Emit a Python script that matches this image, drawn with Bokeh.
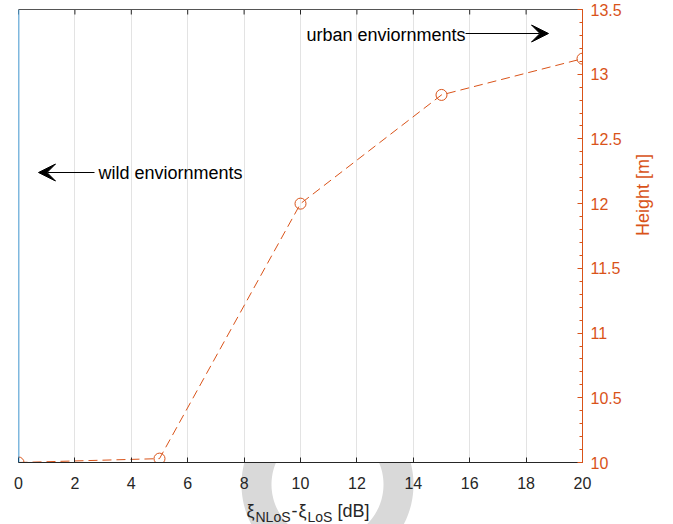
import numpy as np
from bokeh.plotting import figure
from bokeh.models import (Range1d, Span, Label, Arrow, VeeHead,
                          FixedTicker, CustomJSTickFormatter)
from bokeh.core.properties import value
from bokeh.embed import file_html
from bokeh.resources import INLINE

# ---- data ----
delta_xi = [0, 5, 10, 15, 20]
height = [10.0, 10.03, 12.0, 12.84, 13.12]
x_ticks = [0, 2, 4, 6, 8, 10, 12, 14, 16, 18, 20]
y_ticks = [10, 10.5, 11, 11.5, 12, 12.5, 13, 13.5]

ORANGE = "#D95319"
BLUE = "#0072BD"
AXC = "#262626"
FONT = "Liberation Sans"

W, H = 673, 524
BL, BR, BT, BB = 18, 91, 9, 62
X0, X1, Y0, Y1 = 0, 20, 10, 13.5
fw, fh = W - BL - BR, H - BT - BB


def px2x(px):
    return X0 + (px - BL) / fw * (X1 - X0)


def py2y(py):
    return Y1 - (py - BT) / fh * (Y1 - Y0)


p = figure(width=W, height=H, x_range=Range1d(X0, X1), y_range=Range1d(Y0, Y1),
           output_backend="svg", toolbar_location=None, y_axis_location="right",
           min_border_left=BL, min_border_right=BR, min_border_top=BT,
           min_border_bottom=BB)
p.outline_line_color = None
p.background_fill_color = "white"
p.border_fill_color = "white"

# grey ring behind the frame (only its part below the frame shows)
cxp, cyp, Ro, Ri = 327, 484, 86, 56
ybot = BT + fh
ao = np.arcsin((cyp - ybot) / Ro)
ai = np.arcsin((cyp - ybot) / Ri)
t_o = np.linspace(-ao, np.pi + ao, 120)
t_i = np.linspace(np.pi + ai, -ai, 120)
ring_px = np.concatenate([cxp + Ro * np.cos(t_o), cxp + Ri * np.cos(t_i)])
ring_py = np.concatenate([cyp + Ro * np.sin(t_o), cyp + Ri * np.sin(t_i)])
p.patch([px2x(v) for v in ring_px], [py2y(v) for v in ring_py],
        fill_color="#d9d9d9", line_alpha=0, level="guide")

# x axis (bottom)
xa = p.xaxis[0]
xa.ticker = FixedTicker(ticks=x_ticks)
xa.major_tick_in = 5
xa.major_tick_out = 0
xa.minor_tick_in = 0
xa.minor_tick_out = 0
xa.axis_line_color = AXC
xa.major_tick_line_color = AXC
xa.major_label_text_color = AXC
xa.major_label_text_font = FONT
xa.major_label_text_font_size = "16px"
xa.major_label_standoff = 14

# top border line with inward ticks (box)
p.segment(x0=[X0], y0=[Y1], x1=[X1], y1=[Y1], line_color="#555555", line_width=1,
          level="guide")
p.segment(x0=x_ticks, y0=[Y1] * len(x_ticks), x1=x_ticks,
          y1=[py2y(BT + 5)] * len(x_ticks), line_color=AXC, line_width=1)

# right y axis
ya = p.yaxis[0]
ya.ticker = FixedTicker(ticks=y_ticks,
                        minor_ticks=list(np.round(np.arange(10, 13.51, 0.1), 2)))
ya.formatter = CustomJSTickFormatter(code="return String(Number(tick.toFixed(2)))")
ya.major_tick_in = 5
ya.major_tick_out = 0
ya.minor_tick_in = 3
ya.minor_tick_out = 0
ya.axis_line_color = ORANGE
ya.major_tick_line_color = ORANGE
ya.minor_tick_line_color = ORANGE
ya.major_label_text_color = ORANGE
ya.major_label_text_font = FONT
ya.major_label_text_font_size = "16px"
ya.major_label_standoff = 8
ya.axis_label = "Height [m]"
ya.axis_label_orientation = np.pi / 2
ya.axis_label_text_color = ORANGE
ya.axis_label_text_font = FONT
ya.axis_label_text_font_size = "18px"
ya.axis_label_text_font_style = "normal"
ya.axis_label_standoff = 18

# grid
p.xgrid.ticker = FixedTicker(ticks=x_ticks)
p.xgrid.grid_line_color = "#e3e3e3"
p.ygrid.visible = False

# left (empty) axis line
p.add_layout(Span(location=X0, dimension="height", line_color=BLUE, line_width=1.5))

# data
p.line(delta_xi, height, line_color=ORANGE, line_width=1, line_dash="9 5")
p.scatter(delta_xi, height, marker="circle", size=11, fill_color=None,
          line_color=ORANGE, line_width=1)

# annotations
p.add_layout(Arrow(end=VeeHead(size=17, fill_color="black", line_color="black"),
                   x_start=px2x(94), y_start=py2y(172), x_end=px2x(38), y_end=py2y(172),
                   line_color="black", line_width=1))
p.add_layout(Label(x=px2x(98), y=py2y(172), text="wild enviornments",
                   text_font=FONT, text_font_size="18px", text_color="black",
                   text_baseline="middle", text_align="left"))
p.add_layout(Arrow(end=VeeHead(size=17, fill_color="black", line_color="black"),
                   x_start=px2x(465), y_start=py2y(33), x_end=px2x(548), y_end=py2y(33),
                   line_color="black", line_width=1))
p.add_layout(Label(x=px2x(306), y=py2y(34), text="urban enviornments",
                   text_font=FONT, text_font_size="18px", text_color="black",
                   text_baseline="middle", text_align="left"))

# x-axis label with subscripts
main_txt = ["ξ", "-", "ξ", "[dB]"]
main_px = [246, 291, 298, 337]
sub_txt = ["NLoS", "LoS"]
sub_px = [255, 307]
p.text([px2x(v) for v in main_px], [py2y(510)] * len(main_px), text=main_txt,
       text_font=value(FONT), text_font_size="18px", text_color=AXC,
       text_baseline="alphabetic", text_align="left", level="annotation")
p.text([px2x(v) for v in sub_px], [py2y(516)] * len(sub_px), text=sub_txt,
       text_font=value(FONT), text_font_size="14px", text_color=AXC,
       text_baseline="alphabetic", text_align="left", level="annotation")

open("out.html", "w").write(file_html(p, INLINE))
